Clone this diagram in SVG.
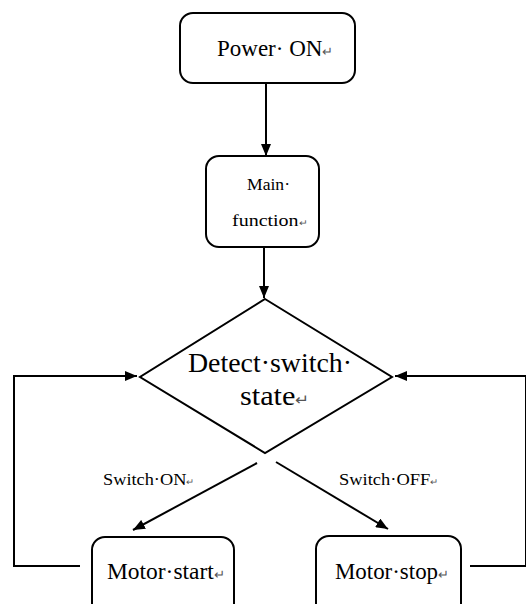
<svg xmlns="http://www.w3.org/2000/svg" width="526" height="604" viewBox="0 0 526 604">
<style>
.box{fill:#fff;stroke:#000;stroke-width:2}
.ln{fill:none;stroke:#000;stroke-width:2}
text{font-family:"Liberation Serif","Times New Roman",serif;fill:#000}
.m{font-size:0.55em;fill:#555}
</style>
<defs>
<marker id="ah" viewBox="0 0 12 10" refX="12" refY="5" markerWidth="12" markerHeight="10" markerUnits="userSpaceOnUse" orient="auto">
<path d="M0,0 L12,5 L0,10 Z" fill="#000"/>
</marker>
</defs>
<rect width="526" height="604" fill="#fff"/>
<g id="connectors">
<line class="ln" x1="266" y1="84" x2="266" y2="156" marker-end="url(#ah)"/>
<line class="ln" x1="264" y1="248" x2="264" y2="298" marker-end="url(#ah)"/>
<line class="ln" x1="257" y1="463" x2="133" y2="530" marker-end="url(#ah)"/>
<line class="ln" x1="276" y1="462" x2="388" y2="529" marker-end="url(#ah)"/>
<polyline class="ln" points="80,566 14,566 14,376 137,376" marker-end="url(#ah)"/>
<polyline class="ln" points="470,566 526,566 526,376 395,376" marker-end="url(#ah)"/>
<text x="103" y="485" font-size="17" textLength="92" lengthAdjust="spacingAndGlyphs">Switch·ON<tspan class="m">↵</tspan></text>
<text x="339" y="485" font-size="17" textLength="100" lengthAdjust="spacingAndGlyphs">Switch·OFF<tspan class="m">↵</tspan></text>
</g>
<g id="power-on">
<rect class="box" x="180" y="13" width="175" height="70" rx="13"/>
<text x="217" y="56" font-size="23">Power· ON<tspan class="m">↵</tspan></text>
</g>
<g id="main-function">
<rect class="box" x="206" y="156" width="113" height="91" rx="13"/>
<text x="247" y="190" font-size="17" textLength="43" lengthAdjust="spacingAndGlyphs">Main·</text>
<text x="232" y="226" font-size="17" textLength="76" lengthAdjust="spacingAndGlyphs">function<tspan class="m">↵</tspan></text>
</g>
<g id="detect-switch-state">
<polygon class="box" points="265,299 392,377 265,453 140,377"/>
<text x="188" y="372" font-size="27" textLength="164" lengthAdjust="spacingAndGlyphs">Detect·switch·</text>
<text x="240" y="405" font-size="27" textLength="70" lengthAdjust="spacingAndGlyphs">state<tspan class="m">↵</tspan></text>
</g>
<g id="motor-start">
<rect class="box" x="92" y="537" width="142" height="90" rx="13"/>
<text x="107" y="579" font-size="23" textLength="118" lengthAdjust="spacingAndGlyphs">Motor·start<tspan class="m">↵</tspan></text>
</g>
<g id="motor-stop">
<rect class="box" x="316" y="536" width="145" height="90" rx="13"/>
<text x="335" y="579" font-size="23" textLength="114" lengthAdjust="spacingAndGlyphs">Motor·stop<tspan class="m">↵</tspan></text>
</g>
</svg>
